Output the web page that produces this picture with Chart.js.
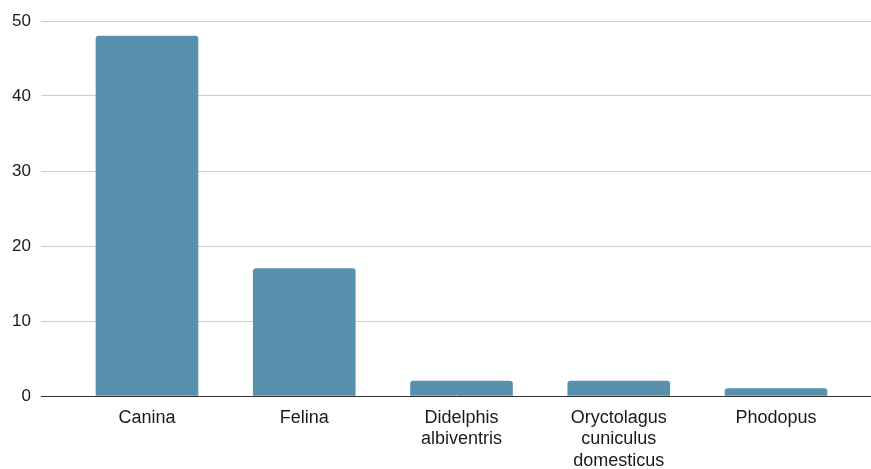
<!DOCTYPE html>
<html>
<head>
<meta charset="utf-8">
<script src="https://cdn.jsdelivr.net/npm/chart.js@4"></script>
<style>
  body { margin: 0; background: #fff; }
  #wrap { width: 871px; height: 469px; position: relative; }
</style>
</head>
<body>
<div id="wrap"><canvas id="chart"></canvas></div>
<script>
const categories = ["Canina", "Felina", ["Didelphis", "albiventris"], ["Oryctolagus", "cuniculus", "domesticus"], "Phodopus"];
const counts = [48, 17, 2, 2, 1];
const yTicks = [0, 10, 20, 30, 40, 50];

const canvas = document.getElementById("chart");

const chart = new Chart(canvas, {
  type: "bar",
  data: {
    datasets: [
      {
        data: counts.map((v, i) => ({ x: i, y: v })),
        backgroundColor: "#5891ae",
        barThickness: 102,
        borderRadius: { topLeft: 3, topRight: 3 },
        borderSkipped: "bottom",
      },
    ],
  },
  options: {
    responsive: true,
    maintainAspectRatio: false,
    animation: false,
    layout: { padding: { top: 21, right: 0, left: 0, bottom: 0 } },
    plugins: { legend: { display: false }, tooltip: { enabled: false } },
    scales: {
      x: {
        type: "linear",
        offset: false,
        min: -0.674,
        max: 4.604,
        grid: { display: false, offset: false },
        border: { display: true, color: "#333", width: 1 },
        afterBuildTicks: (scale) => {
          scale.ticks = categories.map((c, i) => ({ value: i }));
        },
        afterFit: (scale) => { scale.height = 73; },
        ticks: {
          autoSkip: false,
          maxRotation: 0,
          padding: 3,
          color: "#1a1a1a",
          font: { family: "'Liberation Sans', Arial, sans-serif", size: 18 },
          callback: (value) => categories[value],
        },
      },
      y: {
        min: 0,
        max: 50,
        afterBuildTicks: (scale) => {
          scale.ticks = yTicks.map((v) => ({ value: v }));
        },
        afterFit: (scale) => { scale.width = 41; },
        grid: {
          drawTicks: false,
          color: (ctx) => (ctx.tick && ctx.tick.value === 0 ? "rgba(0,0,0,0)" : "#cccccc"),
        },
        border: { display: false },
        ticks: {
          padding: 10,
          color: "#1a1a1a",
          font: { family: "'Liberation Sans', Arial, sans-serif", size: 17 },
        },
      },
    },
  },
});
</script>
</body>
</html>
